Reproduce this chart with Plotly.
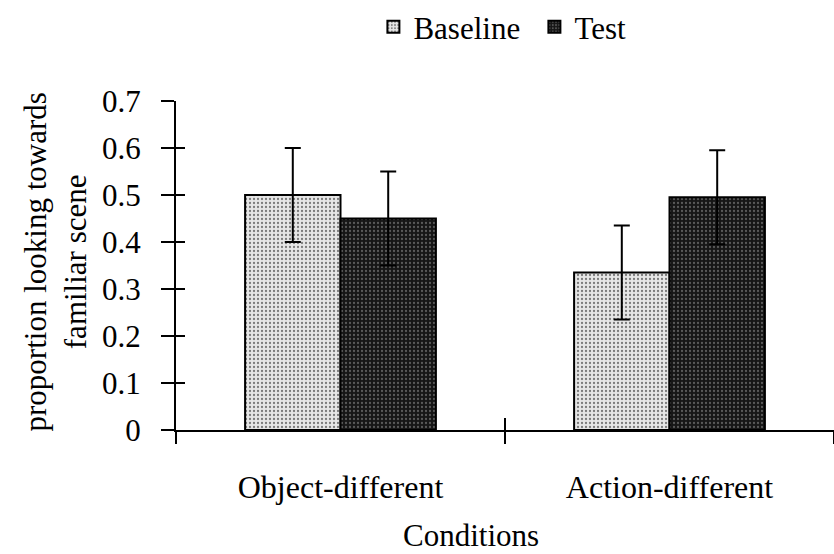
import plotly.graph_objects as go

categories = ["Object-different", "Action-different"]
baseline = [0.50, 0.335]
test = [0.45, 0.495]
baseline_err = [0.10, 0.10]
test_err = [0.10, 0.10]
y_ticks = [0, 0.1, 0.2, 0.3, 0.4, 0.5, 0.6, 0.7]
y_ticklabels = ["0", "0.1", "0.2", "0.3", "0.4", "0.5", "0.6", "0.7"]

FONT = "Liberation Serif"
FS = 31

fig = go.Figure()
fig.add_trace(go.Bar(
    name="Baseline", x=categories, y=baseline,
    error_y=dict(type="data", array=baseline_err, color="black", thickness=2, width=8),
    marker=dict(color="#e2e2e2", line=dict(color="black", width=2),
                pattern=dict(shape=".", fgcolor="#7a7a7a", bgcolor="#e6e6e6",
                             size=4, solidity=0.25, fillmode="replace")),
))
fig.add_trace(go.Bar(
    name="Test", x=categories, y=test,
    error_y=dict(type="data", array=test_err, color="black", thickness=2, width=8),
    marker=dict(color="#1c1c1c", line=dict(color="black", width=2),
                pattern=dict(shape=".", fgcolor="#5a5a5a", bgcolor="#161616",
                             size=4, solidity=0.25, fillmode="replace")),
))
# empty helper trace so the overlay axes (crossing tick halves) are drawn
fig.add_trace(go.Scatter(x=[], y=[], xaxis="x2", yaxis="y2", showlegend=False, hoverinfo="skip"))

fig.update_layout(
    width=834, height=554,
    margin=dict(l=176, r=0, t=101, b=124),
    paper_bgcolor="white", plot_bgcolor="white",
    font=dict(family=FONT, size=FS, color="black"),
    barmode="group", bargap=0.42, bargroupgap=0,
    showlegend=True,
    legend=dict(orientation="h", x=0.30, xanchor="left", y=1.225, yanchor="middle",
                font=dict(family=FONT, size=FS), entrywidth=116, entrywidthmode="pixels",
                bgcolor="rgba(0,0,0,0)"),
    xaxis=dict(
        type="category", range=[-0.5, 1.5],
        showline=True, linecolor="black", linewidth=2,
        ticks="outside", ticklen=12, tickwidth=2, tickcolor="black",
        tickson="boundaries", showgrid=False, zeroline=False,
        ticklabelstandoff=28,
        tickfont=dict(family=FONT, size=32),
    ),
    yaxis=dict(
        range=[0, 0.7], tickvals=y_ticks, ticktext=y_ticklabels,
        showline=True, linecolor="black", linewidth=2,
        ticks="outside", ticklen=13, tickwidth=2, tickcolor="black",
        showgrid=False, zeroline=False,
        ticklabelstandoff=14,
        tickfont=dict(family=FONT, size=FS),
    ),
    xaxis2=dict(
        overlaying="x", anchor="y2", range=[-0.5, 1.5], tickvals=[0.5],
        ticks="inside", ticklen=12, tickwidth=2, tickcolor="black",
        showticklabels=False, showgrid=False, zeroline=False, showline=False,
    ),
    yaxis2=dict(
        overlaying="y", anchor="x2", range=[0, 0.7], tickvals=y_ticks,
        ticks="inside", ticklen=9, tickwidth=2, tickcolor="black",
        showticklabels=False, showgrid=False, zeroline=False, showline=False,
    ),
    annotations=[
        dict(text="proportion looking towards<br>familiar scene", textangle=-90,
             xref="paper", yref="paper", x=-0.183, y=0.511,
             xanchor="center", yanchor="middle", showarrow=False,
             font=dict(family=FONT, size=FS)),
        dict(text="Conditions", xref="paper", yref="paper", x=0.448, y=-0.322,
             xanchor="center", yanchor="middle", showarrow=False,
             font=dict(family=FONT, size=FS)),
    ],
)

fig.write_html("out.html")
